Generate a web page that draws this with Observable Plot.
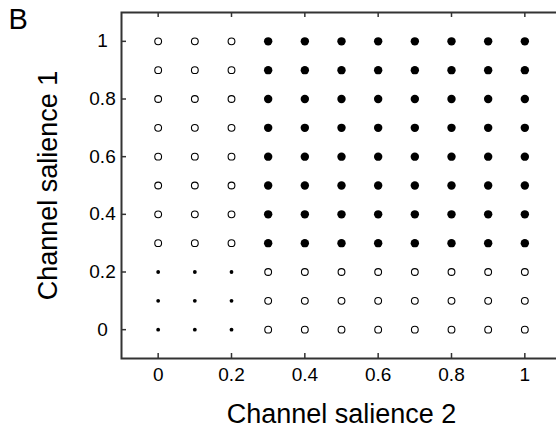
<!DOCTYPE html>
<html>
<head>
<meta charset="utf-8">
<script src="https://cdn.jsdelivr.net/npm/d3@7"></script>
<script src="https://cdn.jsdelivr.net/npm/@observablehq/plot@0.6"></script>
<style>
  html, body { margin: 0; padding: 0; background: #fff; overflow: hidden; }
</style>
</head>
<body>
<div id="chart"></div>
<script>
// Grid of tested saliences (x: channel 2, y: channel 1)
const salience2 = [0, 0.1, 0.2, 0.3, 0.4, 0.5, 0.6, 0.7, 0.8, 0.9, 1];
const salience1 = [1, 0.9, 0.8, 0.7, 0.6, 0.5, 0.4, 0.3, 0.2, 0.1, 0]; // rows, top to bottom

// Outcome per grid cell, one string per row of salience1, one character per salience2 value:
// s = small filled dot, o = open circle, f = large filled dot
const outcomeRows = [
  "oooffffffff",
  "oooffffffff",
  "oooffffffff",
  "oooffffffff",
  "oooffffffff",
  "oooffffffff",
  "oooffffffff",
  "oooffffffff",
  "sssoooooooo",
  "sssoooooooo",
  "sssoooooooo"
];

// Axis ticks and their labels
const xTicks = [0, 0.2, 0.4, 0.6, 0.8, 1];
const xTickLabels = ["0", "0.2", "0.4", "0.6", "0.8", "1"];
const yTicks = [0, 0.2, 0.4, 0.6, 0.8, 1];
const yTickLabels = ["0", "0.2", "0.4", "0.6", "0.8", "1"];

const xTitle = "Channel salience 2";
const yTitle = "Channel salience 1";
const panelLabel = "B";

const cells = outcomeRows.flatMap((row, i) =>
  salience2.map((s2, j) => ({s1: salience1[i], s2, kind: row[j]}))
);

const width = 556, height = 436;
const marginLeft = 121, marginRight = -5, marginTop = 12, marginBottom = 78;
const frameW = width - marginLeft - marginRight;
const frameH = height - marginTop - marginBottom;
const tickLen = 5;
const ink = "#333";

const chart = Plot.plot({
  width, height, marginLeft, marginRight, marginTop, marginBottom,
  style: {fontFamily: "'Liberation Sans', Arial, sans-serif", background: "#fff", color: "#000"},
  x: {domain: [-0.1, 1.1], axis: null},
  y: {domain: [-0.1, 1.1], axis: null},
  marks: [
    // grid outcomes
    Plot.dot(cells.filter(d => d.kind === "s"), {x: "s2", y: "s1", r: 1.9, fill: "#000", stroke: "none"}),
    Plot.dot(cells.filter(d => d.kind === "o"), {x: "s2", y: "s1", r: 3.4, fill: "#fff", stroke: "#000", strokeWidth: 1.1}),
    Plot.dot(cells.filter(d => d.kind === "f"), {x: "s2", y: "s1", r: 4.2, fill: "#000", stroke: "none"}),

    // box
    Plot.frame({stroke: ink, strokeWidth: 2}),

    // inward ticks on all four sides
    Plot.ruleX(xTicks, {x: d => d, insetTop: frameH - tickLen, stroke: ink, strokeWidth: 1.5}),
    Plot.ruleX(xTicks, {x: d => d, insetBottom: frameH - tickLen, stroke: ink, strokeWidth: 1.5}),
    Plot.ruleY(yTicks, {y: d => d, insetRight: frameW - tickLen, stroke: ink, strokeWidth: 1.5}),
    Plot.ruleY(yTicks, {y: d => d, insetLeft: frameW - tickLen, stroke: ink, strokeWidth: 1.5}),

    // tick labels
    Plot.text(xTicks, {x: d => d, frameAnchor: "bottom", dy: 22, text: (d, i) => xTickLabels[i], fontSize: 19, fill: "#000"}),
    Plot.text(yTicks, {y: d => d, frameAnchor: "left", dx: -19, textAnchor: "middle", text: (d, i) => yTickLabels[i], fontSize: 19, fill: "#000"}),

    // axis titles
    Plot.text([xTitle], {frameAnchor: "bottom", dy: 64, textAnchor: "middle", text: d => d, fontSize: 27, fill: "#000"}),
    Plot.text([yTitle], {frameAnchor: "left", dx: -73, textAnchor: "middle", rotate: -90, text: d => d, fontSize: 27, fill: "#000"}),

    // panel letter
    Plot.text([panelLabel], {frameAnchor: "top-left", dx: -113, dy: -4, textAnchor: "start", lineAnchor: "top", text: d => d, fontSize: 29, fill: "#000"})
  ]
});

document.getElementById("chart").appendChild(chart);
</script>
</body>
</html>
